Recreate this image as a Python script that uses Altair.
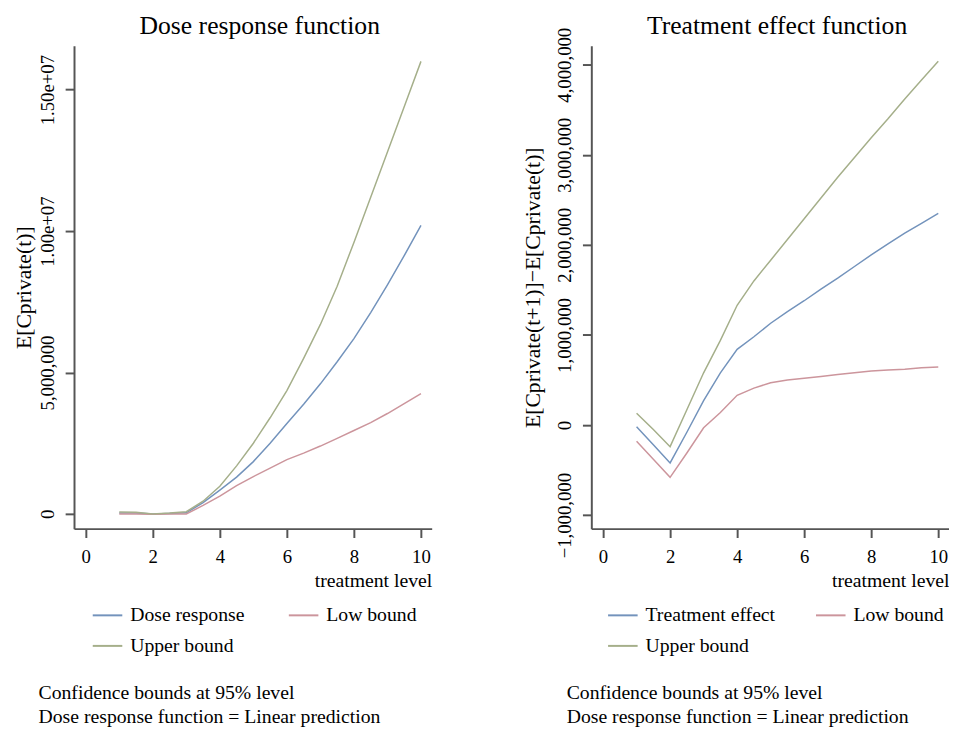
import altair as alt
import pandas as pd

FONT = "Liberation Serif"

# ---------------- data (values in units of the y axis) ----------------
x_grid = [1, 1.5, 2, 2.5, 3, 3.5, 4, 4.5, 5, 5.5, 6, 6.5, 7, 7.5, 8, 8.5, 9, 9.5, 10]

# Dose response panel (E[Cprivate(t)])
dose_resp = [35e3, 30e3, 0, 15e3, 40e3, 0.40e6, 0.84e6, 1.30e6, 1.85e6, 2.50e6, 3.20e6, 3.88e6,
             4.60e6, 5.38e6, 6.20e6, 7.12e6, 8.10e6, 9.13e6, 10.2e6]
dose_low = [0, 0, -10e3, 0, 0, 0.30e6, 0.63e6, 1.00e6, 1.32e6, 1.62e6, 1.92e6, 2.15e6,
            2.40e6, 2.67e6, 2.95e6, 3.23e6, 3.55e6, 3.90e6, 4.25e6]
dose_up = [70e3, 60e3, 0, 30e3, 80e3, 0.45e6, 0.98e6, 1.70e6, 2.50e6, 3.40e6, 4.36e6, 5.50e6,
           6.70e6, 8.05e6, 9.60e6, 11.2e6, 12.8e6, 14.4e6, 16.0e6]

# Treatment effect panel (E[Cprivate(t+1)]-E[Cprivate(t)])
te_eff = [-0.02e6, -0.22e6, -0.42e6, -0.08e6, 0.27e6, 0.58e6, 0.84e6, 0.98e6, 1.13e6, 1.26e6,
          1.38e6, 1.51e6, 1.63e6, 1.76e6, 1.89e6, 2.01e6, 2.13e6, 2.24e6, 2.35e6]
te_low = [-0.18e6, -0.38e6, -0.58e6, -0.31e6, -0.03e6, 0.14e6, 0.33e6, 0.41e6, 0.47e6, 0.50e6,
          0.52e6, 0.54e6, 0.56e6, 0.58e6, 0.60e6, 0.61e6, 0.62e6, 0.635e6, 0.645e6]
te_up = [0.13e6, -0.05e6, -0.24e6, 0.17e6, 0.58e6, 0.94e6, 1.33e6, 1.60e6, 1.83e6, 2.06e6,
         2.29e6, 2.52e6, 2.75e6, 2.97e6, 3.19e6, 3.40e6, 3.62e6, 3.83e6, 4.04e6]

dose_names = ["Dose response", "Low bound", "Upper bound"]
te_names = ["Treatment effect", "Low bound", "Upper bound"]
colors = ["#7393BC", "#CC959C", "#A5AF8A"]

panel_titles = ["Dose response function", "Treatment effect function"]
notes = "Confidence bounds at 95% level\nDose response function = Linear prediction"

left_yticks = [0, 5e6, 1e7, 1.5e7]
right_yticks = [-1e6, 0, 1e6, 2e6, 3e6, 4e6]
xticks = [0, 2, 4, 6, 8, 10]


def long_df(names, series):
    rows = []
    for name, vals in zip(names, series):
        for xv, yv in zip(x_grid, vals):
            rows.append({"x": xv, "y": yv, "series": name})
    return pd.DataFrame(rows)


dose_df = long_df(dose_names, [dose_resp, dose_low, dose_up])
te_df = long_df(te_names, [te_eff, te_low, te_up])
note_df = pd.DataFrame({"note": [notes]})

W, H = 363, 490


def panel(df, names, title, ytitle, ydomain, yticks, label_expr, legend_x, col_pad,
          y_title_pad, note_x):
    xaxis = alt.Axis(values=xticks, title="treatment level", titleAnchor="end",
                     titleFontSize=20, titleFontWeight="normal", titlePadding=5,
                     labelFontSize=19, labelPadding=10, tickSize=9, grid=False,
                     format="d", labelFlush=False)
    yaxis = alt.Axis(values=yticks, title=ytitle, titleFontSize=22,
                     titleFontWeight="normal", titlePadding=y_title_pad,
                     labelFontSize=19, labelAngle=-90, labelAlign="center",
                     labelBaseline="bottom", labelPadding=8, tickSize=9, grid=False,
                     labelExpr=label_expr, labelFlush=False)
    legend = alt.Legend(title=None, orient="none", legendX=legend_x, legendY=562,
                        columns=2, direction="horizontal", columnPadding=col_pad,
                        rowPadding=5, symbolType="stroke", symbolSize=900,
                        symbolStrokeWidth=2, labelFontSize=20, labelOffset=7,
                        padding=0, labelLimit=300, values=names)
    lines = alt.Chart(df).mark_line(strokeWidth=1.5, clip=True).encode(
        x=alt.X("x:Q", scale=alt.Scale(domain=[-0.35, 10.32], nice=False, zero=False),
                axis=xaxis),
        y=alt.Y("y:Q", scale=alt.Scale(domain=ydomain, nice=False, zero=False),
                axis=yaxis),
        color=alt.Color("series:N", scale=alt.Scale(domain=names, range=colors),
                        legend=legend),
        detail="series:N",
    )
    title_mark = alt.Chart(pd.DataFrame({"t": [title]})).mark_text(
        align="center", baseline="alphabetic", fontSize=26, font=FONT, color="black"
    ).encode(x=alt.value(W / 2 + 7), y=alt.value(-12), text="t:N")
    note = alt.Chart(note_df).mark_text(
        align="left", baseline="middle", fontSize=20, lineBreak="\n",
        lineHeight=24, font=FONT, color="black"
    ).encode(x=alt.value(note_x), y=alt.value(657), text="note:N")
    return alt.layer(lines, title_mark, note).properties(width=W, height=H)


left = panel(dose_df, dose_names, panel_titles[0], "E[Cprivate(t)]",
             [-0.52e6, 16.55e6], left_yticks,
             "datum.value == 0 ? '0' : datum.value == 5000000 ? '5,000,000' : "
             "datum.value == 10000000 ? '1.00e+07' : '1.50e+07'",
             18, 40, 3, -36)
right = panel(te_df, te_names, panel_titles[1],
              "E[Cprivate(t+1)]\u2212E[Cprivate(t)]",
              [-1.15e6, 4.21e6], right_yticks, "format(datum.value, ',')",
              16, 37, 12, -25)

chart = alt.hconcat(left, right, spacing=162, bounds="flush").resolve_scale(
    color="independent"
).properties(
    padding={"left": 5, "top": 0, "right": 0, "bottom": 0}
).configure(font=FONT).configure_axis(
    domainColor="#555555", tickColor="#555555", domainWidth=2, tickWidth=2,
    labelColor="black", titleColor="black", labelFont=FONT, titleFont=FONT,
).configure_legend(labelFont=FONT, labelColor="black").configure_view(stroke=None)

chart.save("out.html", embed_options={"renderer": "svg", "actions": False})
